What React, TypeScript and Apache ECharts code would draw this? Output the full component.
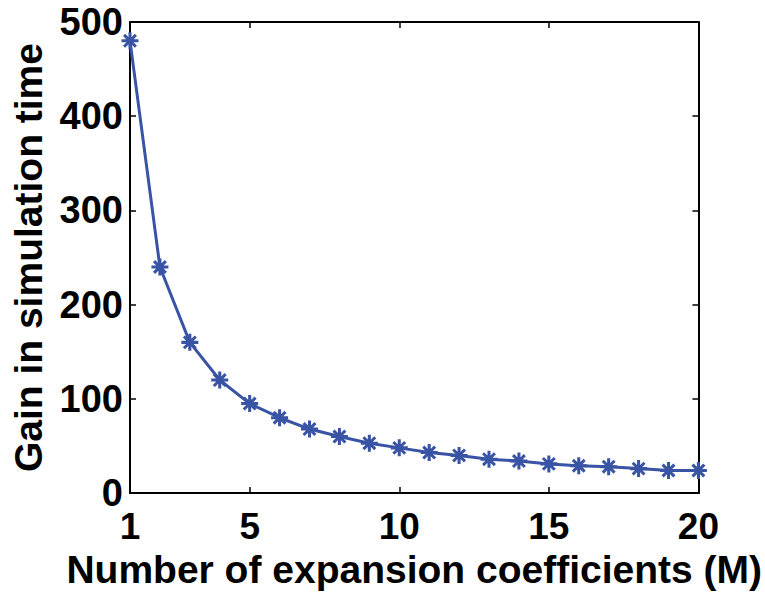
import React, { useEffect, useRef } from "react";
import * as echarts from "echarts";

const xValues = [1, 2, 3, 4, 5, 6, 7, 8, 9, 10, 11, 12, 13, 14, 15, 16, 17, 18, 19, 20];
const gainValues = [480, 240, 160, 120, 95, 80, 68, 60, 53, 48, 43, 40, 36, 34, 31, 29, 28, 26, 24, 24];
const xTicks = [1, 5, 10, 15, 20];
const xAxisName = "Number of expansion coefficients (M)";
const yAxisName = "Gain in simulation time";

const ASTERISK =
  "path://M-10,-1.8L10,-1.8L10,1.8L-10,1.8Z" +
  "M-1.8,-10L1.8,-10L1.8,10L-1.8,10Z" +
  "M-5.7,-8.2L8.2,5.7L5.7,8.2L-8.2,-5.7Z" +
  "M-8.2,5.7L5.7,-8.2L8.2,-5.7L-5.7,8.2Z";

export default function App() {
  const ref = useRef<HTMLDivElement>(null);
  useEffect(() => {
    if (!ref.current) return;
    const chart = echarts.init(ref.current, undefined, { renderer: "svg" });
    const font = "'Liberation Sans', Arial, Helvetica, sans-serif";
    const tickStyle = { color: "#000", width: 1.5 };
    const lineStyle = { color: "#000", width: 2 };
    chart.setOption({
      animation: false,
      backgroundColor: "#fff",
      grid: { left: 130, right: 65, top: 22, bottom: 93, show: false },
      xAxis: [
        {
          type: "value",
          min: 1,
          max: 20,
          position: "bottom",
          name: xAxisName,
          nameLocation: "middle",
          nameGap: 51,
          nameTextStyle: { fontFamily: font, fontWeight: "bold", fontSize: 39, color: "#000" },
          axisLine: { show: true, onZero: false, lineStyle },
          axisTick: { show: true, inside: true, length: 6, lineStyle: tickStyle, customValues: xTicks },
          axisLabel: {
            show: true,
            customValues: xTicks,
            margin: 15,
            fontFamily: font,
            fontWeight: "bold",
            fontSize: 37,
            color: "#000",
          },
          splitLine: { show: false },
        },
        {
          type: "value",
          min: 1,
          max: 20,
          position: "top",
          axisLine: { show: true, onZero: false, lineStyle },
          axisTick: { show: true, inside: true, length: 6, lineStyle: tickStyle, customValues: xTicks },
          axisLabel: { show: false },
          splitLine: { show: false },
        },
      ],
      yAxis: [
        {
          type: "value",
          min: 0,
          max: 500,
          interval: 100,
          position: "left",
          name: yAxisName,
          nameLocation: "middle",
          nameGap: 82,
          nameTextStyle: { fontFamily: font, fontWeight: "bold", fontSize: 39, color: "#000" },
          axisLine: { show: true, onZero: false, lineStyle },
          axisTick: { show: true, inside: true, length: 6, lineStyle: tickStyle },
          axisLabel: { margin: 7, fontFamily: font, fontWeight: "bold", fontSize: 38, color: "#000" },
          splitLine: { show: false },
        },
        {
          type: "value",
          min: 0,
          max: 500,
          interval: 100,
          position: "right",
          axisLine: { show: true, onZero: false, lineStyle },
          axisTick: { show: true, inside: true, length: 6, lineStyle: tickStyle },
          axisLabel: { show: false },
          splitLine: { show: false },
        },
      ],
      series: [
        {
          type: "line",
          xAxisIndex: 0,
          yAxisIndex: 0,
          data: xValues.map((x, i) => [x, gainValues[i]]),
          symbol: ASTERISK,
          symbolSize: 17,
          symbolKeepAspect: true,
          showSymbol: true,
          clip: false,
          lineStyle: { color: "#3953a5", width: 3 },
          itemStyle: { color: "#3953a5", borderWidth: 0 },
        },
      ],
    });
    return () => chart.dispose();
  }, []);
  return (
    <div
      ref={ref}
      style={{ position: "absolute", left: 0, top: 0, width: 765, height: 594 }}
    />
  );
}
